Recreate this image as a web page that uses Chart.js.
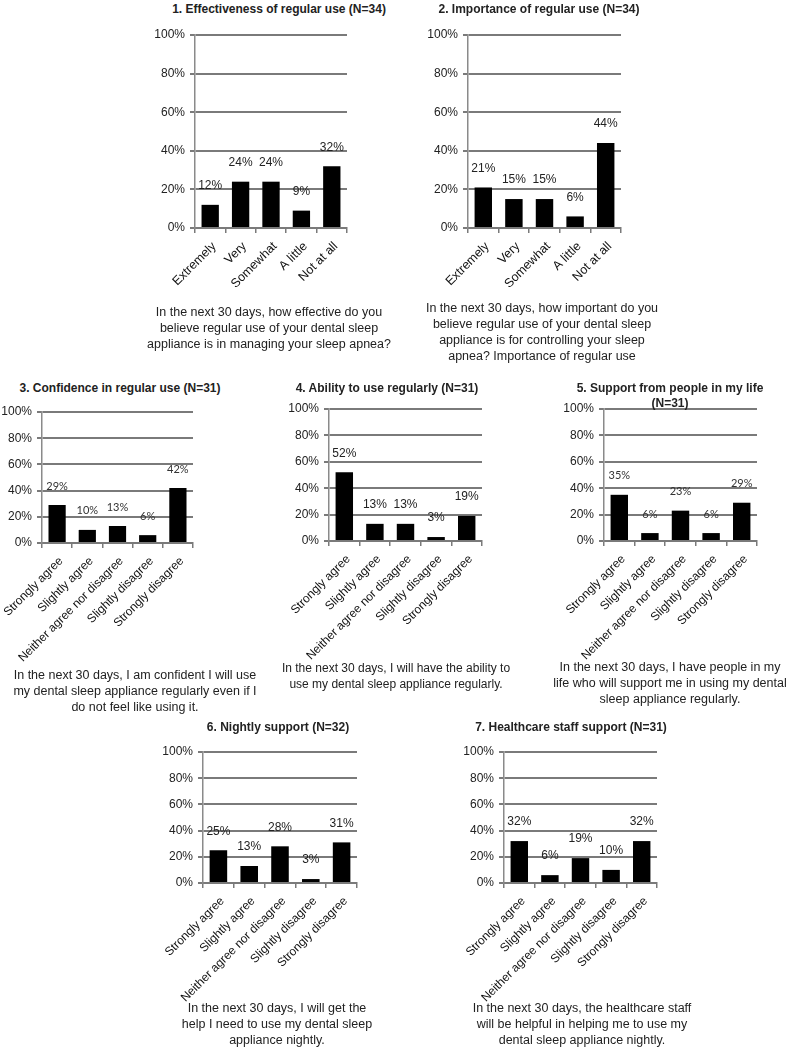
<!DOCTYPE html>
<html>
<head>
<meta charset="utf-8">
<script src="https://cdn.jsdelivr.net/npm/chart.js@4.4.1/dist/chart.umd.min.js"></script>
<style>
  body { margin: 0; background: #fff; }
  #page { position: relative; width: 789px; height: 1050px; overflow: hidden; font-family: "Liberation Sans", Arial, sans-serif; color: #222; }
  canvas.fig { position: absolute; }
  .ttl { position: absolute; font-weight: bold; font-size: 12px; text-align: center; white-space: nowrap; line-height: 15px; transform: translate(-50%, -7px); }
  .cap { position: absolute; font-size: 12.5px; text-align: center; white-space: nowrap; line-height: 16px; transform: translate(-50%, -8px); }
</style>
</head>
<body>
<div id="page"></div>
<script>
const shortScale = ['Extremely', 'Very', 'Somewhat', 'A little', 'Not at all'];
const agreeScale = ['Strongly agree', 'Slightly agree', 'Neither agree nor disagree', 'Slightly disagree', 'Strongly disagree'];

const titles = [
    ['1. Effectiveness of regular use (N=34)'],
    ['2. Importance of regular use (N=34)'],
    ['3. Confidence in regular use (N=31)'],
    ['4. Ability to use regularly (N=31)'],
    ['5. Support from people in my life', '(N=31)'],
    ['6. Nightly support (N=32)'],
    ['7. Healthcare staff support (N=31)']
];

const captions = [
    ['In the next 30 days, how effective do you', 'believe regular use of your dental sleep', 'appliance is in managing your sleep apnea?'],
    ['In the next 30 days, how important do you', 'believe regular use of your dental sleep', 'appliance is for controlling your sleep', 'apnea? Importance of regular use'],
    ['In the next 30 days, I am confident I will use', 'my dental sleep appliance regularly even if I', 'do not feel like using it.'],
    ['In the next 30 days, I will have the ability to', 'use my dental sleep appliance regularly.'],
    ['In the next 30 days, I have people in my', 'life who will support me in using my dental', 'sleep appliance regularly.'],
    ['In the next 30 days, I will get the', 'help I need to use my dental sleep', 'appliance nightly.'],
    ['In the next 30 days, the healthcare staff', 'will be helpful in helping me to use my', 'dental sleep appliance nightly.']
];

const values1 = [12, 24, 24, 9, 32];
const values2 = [21, 15, 15, 6, 44];
const values3 = [29, 10, 13, 6, 42];
const values4 = [52, 13, 13, 3, 19];
const values5 = [35, 6, 23, 6, 29];
const values6 = [25, 13, 28, 3, 31];
const values7 = [32, 6, 19, 10, 32];

const yTicks = [0, 20, 40, 60, 80, 100];

// where each plot area sits on the page, and where title / caption go
const layouts = [
    { x0: 195, x1: 347, y0: 35,  y1: 228, tx: 279, ty: 9,   cx: 269, cy: 312, capSize: 12.5, catSize: 12.5, labels: shortScale, data: values1, valFont: 'arial' },
    { x0: 468, x1: 621, y0: 35,  y1: 228, tx: 539, ty: 9,   cx: 542, cy: 308, capSize: 12.5, catSize: 12.5, labels: shortScale, data: values2, valFont: 'arial' },
    { x0: 42,  x1: 193, y0: 412, y1: 543, tx: 120, ty: 388, cx: 135, cy: 675, capSize: 12.5, catSize: 12, labels: agreeScale, data: values3, valFont: 'calibri' },
    { x0: 329, x1: 482, y0: 409, y1: 541, tx: 387, ty: 388, cx: 396, cy: 668, capSize: 12, catSize: 12, labels: agreeScale, data: values4, valFont: 'arial' },
    { x0: 604, x1: 757, y0: 409, y1: 541, tx: 670, ty: 388, cx: 670, cy: 667, capSize: 12.5, catSize: 12, labels: agreeScale, data: values5, valFont: 'calibri' },
    { x0: 203, x1: 357, y0: 752, y1: 883, tx: 278, ty: 727, cx: 277, cy: 1008, capSize: 12.5, catSize: 12, labels: agreeScale, data: values6, valFont: 'arial' },
    { x0: 504, x1: 657, y0: 752, y1: 883, tx: 571, ty: 727, cx: 582, cy: 1008, capSize: 12.5, catSize: 12, labels: agreeScale, data: values7, valFont: 'arial' }
];

const PAD_L = 110, Y_W = 52, PAD_T = 12, PAD_R = 40, X_H = 135;

Chart.defaults.font.family = '"Liberation Sans", Arial, sans-serif';
Chart.defaults.color = '#222';

// percentage labels above the bars
const valueLabels = {
    id: 'valueLabels',
    afterDatasetsDraw(chart) {
        const ctx = chart.ctx;
        const meta = chart.getDatasetMeta(0);
        const ds = chart.data.datasets[0];
        ctx.save();
        ctx.textAlign = 'center';
        ctx.textBaseline = 'middle';
        if (ds.valFont === 'calibri') {
            ctx.font = '11px Lato, "Open Sans", sans-serif';
            ctx.fillStyle = '#333';
        } else {
            ctx.font = '12px "Liberation Sans", Arial, sans-serif';
            ctx.fillStyle = '#222';
        }
        meta.data.forEach((bar, i) => {
            ctx.fillText(ds.data[i] + '%', bar.x, bar.y - 19);
        });
        ctx.restore();
    }
};

function drawPanel(page, cfg, idx) {
    const cv = document.createElement('canvas');
    cv.className = 'fig';
    const w = (cfg.x1 - cfg.x0) + PAD_L + PAD_R;
    const h = (cfg.y1 - cfg.y0) + PAD_T + X_H;
    cv.style.left = (cfg.x0 - PAD_L) + 'px';
    cv.style.top = (cfg.y0 - PAD_T) + 'px';
    cv.style.width = w + 'px';
    cv.style.height = h + 'px';
    cv.width = w;
    cv.height = h;
    page.appendChild(cv);

    new Chart(cv, {
        type: 'bar',
        data: {
            labels: cfg.labels,
            datasets: [{
                data: cfg.data,
                valFont: cfg.valFont,
                backgroundColor: '#000',
                borderWidth: 0,
                categoryPercentage: 1,
                barPercentage: 0.57
            }]
        },
        options: {
            responsive: false,
            animation: false,
            layout: { padding: { left: PAD_L - Y_W, top: PAD_T, right: PAD_R, bottom: 0 } },
            scales: {
                x: {
                    grid: {
                        offset: true,
                        drawOnChartArea: false,
                        drawTicks: true,
                        tickLength: 5,
                        color: '#7a7a7a',
                        lineWidth: 1.5
                    },
                    border: { display: true, color: '#7a7a7a', width: 2 },
                    ticks: {
                        minRotation: 45,
                        maxRotation: 45,
                        autoSkip: false,
                        padding: 6,
                        labelOffset: 4,
                        color: '#111',
                        font: { size: cfg.catSize }
                    },
                    afterFit: function (s) {
                        s.height = X_H;
                        s.paddingLeft = 0;
                        s.paddingRight = 0;
                    }
                },
                y: {
                    min: 0,
                    max: 100,
                    afterBuildTicks: function (s) {
                        s.ticks = yTicks.map(v => ({ value: v }));
                    },
                    grid: {
                        color: '#7a7a7a',
                        lineWidth: 2,
                        drawTicks: true,
                        tickLength: 5
                    },
                    border: { display: true, color: '#8a8a8a', width: 1.5 },
                    ticks: {
                        padding: 5,
                        color: '#222',
                        font: { size: 12 },
                        callback: function (value) {
                            return value + '%';
                        }
                    },
                    afterFit: function (s) {
                        s.width = Y_W;
                        s.paddingTop = 0;
                        s.paddingBottom = 0;
                    }
                }
            },
            plugins: {
                legend: { display: false },
                tooltip: { enabled: false }
            }
        },
        plugins: [valueLabels]
    });

    const t = document.createElement('div');
    t.className = 'ttl';
    t.style.left = cfg.tx + 'px';
    t.style.top = cfg.ty + 'px';
    t.innerHTML = titles[idx].join('<br>');
    page.appendChild(t);

    const c = document.createElement('div');
    c.className = 'cap';
    c.style.left = cfg.cx + 'px';
    c.style.top = cfg.cy + 'px';
    c.style.fontSize = cfg.capSize + 'px';
    c.innerHTML = captions[idx].join('<br>');
    page.appendChild(c);
}

const page = document.getElementById('page');
layouts.forEach((cfg, i) => drawPanel(page, cfg, i));
</script>
</body>
</html>
